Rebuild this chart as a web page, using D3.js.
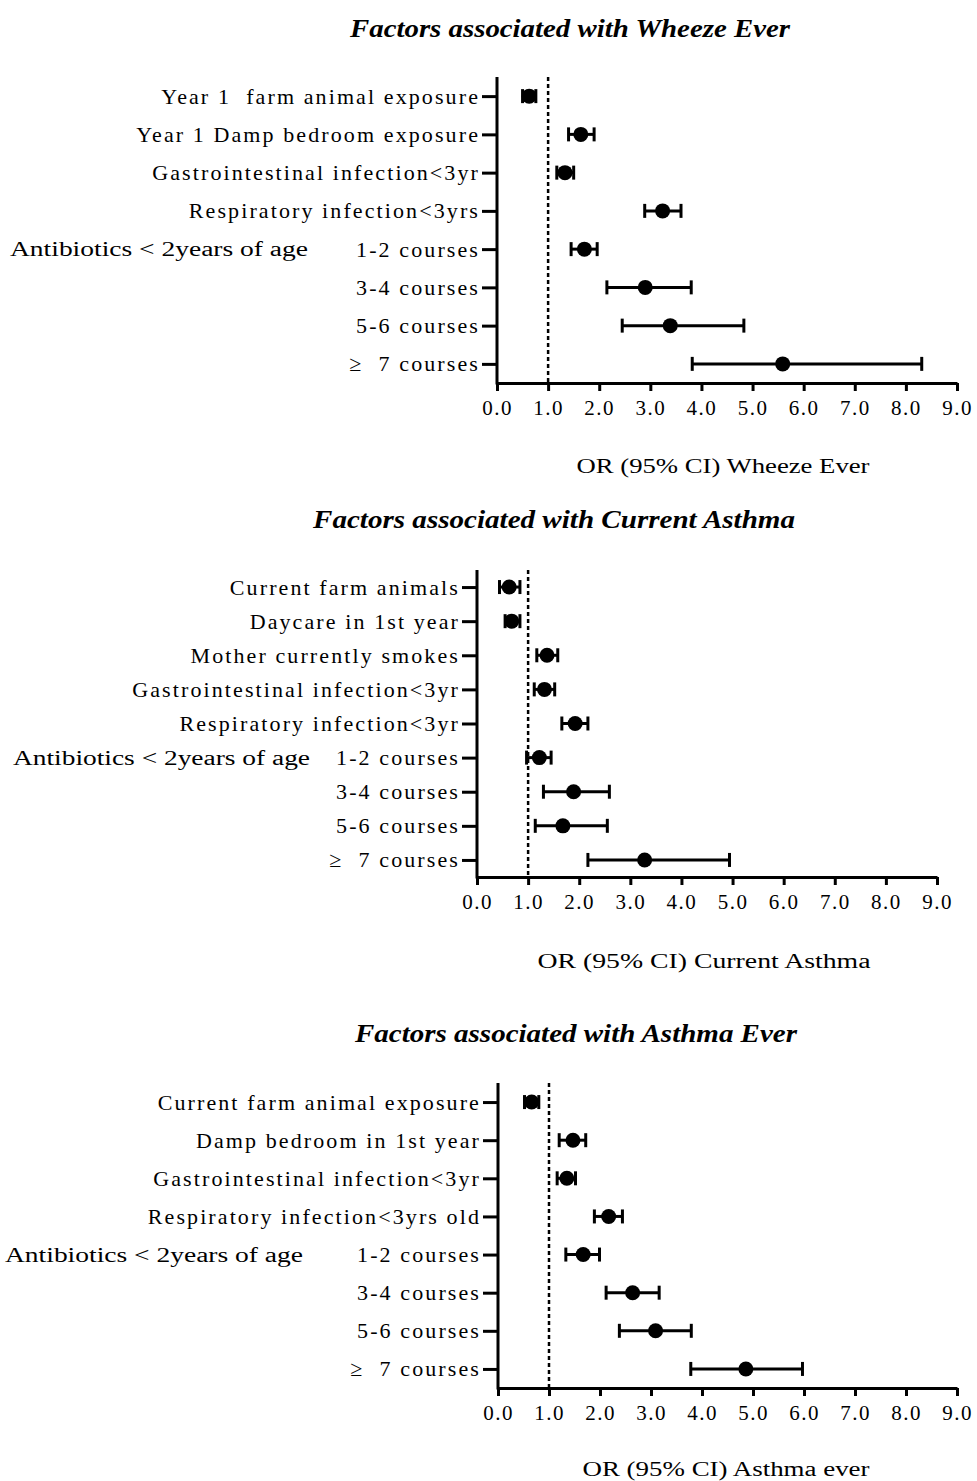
<!DOCTYPE html>
<html>
<head>
<meta charset="utf-8">
<script src="https://cdn.jsdelivr.net/npm/d3@7"></script>
<style>
  body { margin: 0; background: #fff; }
  svg text { font-family: "Liberation Serif", "Times New Roman", serif; fill: #000; }
</style>
</head>
<body>
<div id="chart"></div>
<script>
// data: odds ratios with 95% CI
var labels1 = ["Year 1  farm animal exposure", "Year 1 Damp bedroom exposure", "Gastrointestinal infection<3yr", "Respiratory infection<3yrs", "1-2 courses", "3-4 courses", "5-6 courses", "\u2265  7 courses"];
var or1 = [0.63, 1.64, 1.33, 3.24, 1.71, 2.90, 3.39, 5.59];
var lo1 = [0.50, 1.40, 1.17, 2.89, 1.45, 2.15, 2.45, 3.82];
var hi1 = [0.76, 1.90, 1.50, 3.60, 1.96, 3.80, 4.83, 8.31];

var labels2 = ["Current farm animals", "Daycare in 1st year", "Mother currently smokes", "Gastrointestinal infection<3yr", "Respiratory infection<3yr", "1-2 courses", "3-4 courses", "5-6 courses", "\u2265  7 courses"];
var or2 = [0.63, 0.68, 1.37, 1.32, 1.92, 1.22, 1.89, 1.68, 3.28];
var lo2 = [0.44, 0.55, 1.17, 1.12, 1.66, 0.97, 1.30, 1.14, 2.17];
var hi2 = [0.84, 0.84, 1.58, 1.52, 2.17, 1.45, 2.59, 2.55, 4.94];

var labels3 = ["Current farm animal exposure", "Damp bedroom in 1st year", "Gastrointestinal infection<3yr", "Respiratory infection<3yrs old", "1-2 courses", "3-4 courses", "5-6 courses", "\u2265  7 courses"];
var or3 = [0.66, 1.47, 1.35, 2.17, 1.67, 2.64, 3.09, 4.86];
var lo3 = [0.52, 1.20, 1.16, 1.89, 1.33, 2.12, 2.38, 3.78];
var hi3 = [0.80, 1.72, 1.52, 2.44, 1.99, 3.16, 3.79, 5.97];

var xTicks = [0, 1, 2, 3, 4, 5, 6, 7, 8, 9];
var groupLabel = "Antibiotics < 2years of age";

var W = 977, H = 1481;

var svg = d3.select("#chart").append("svg")
  .attr("width", W)
  .attr("height", H);

var panels = [
  {title: "Factors associated with Wheeze Ever", titleX: 570, titleY: 28, titleW: 440,
   xLabel: "OR (95% CI) Wheeze Ever", xLabelX: 723, xLabelY: 466, xLabelW: 293,
   labels: labels1, or: or1, lo: lo1, hi: hi1,
   left: 497, right: 957, top: 77, bottom: 383, groupX: 10, groupW: 298},
  {title: "Factors associated with Current Asthma", titleX: 554, titleY: 519, titleW: 482,
   xLabel: "OR (95% CI) Current Asthma", xLabelX: 704, xLabelY: 961, xLabelW: 333,
   labels: labels2, or: or2, lo: lo2, hi: hi2,
   left: 477, right: 937, top: 570, bottom: 877, groupX: 13, groupW: 297},
  {title: "Factors associated with Asthma Ever", titleX: 576, titleY: 1033, titleW: 442,
   xLabel: "OR (95% CI) Asthma ever", xLabelX: 726, xLabelY: 1469, xLabelW: 287,
   labels: labels3, or: or3, lo: lo3, hi: hi3,
   left: 498, right: 957, top: 1083, bottom: 1388, groupX: 5, groupW: 298}
];

panels.forEach(drawPanel);

function drawPanel(p) {
  var g = svg.append("g");

  var x = d3.scaleLinear().domain([0, 9]).range([p.left, p.right]);
  var y = d3.scalePoint().domain(p.labels).range([p.top, p.bottom]).padding(0.5);

  // title
  g.append("text")
    .attr("x", p.titleX)
    .attr("y", p.titleY)
    .attr("dy", "0.35em")
    .attr("text-anchor", "middle")
    .attr("font-size", 25)
    .attr("font-weight", "bold")
    .attr("font-style", "italic")
    .attr("textLength", p.titleW)
    .attr("lengthAdjust", "spacingAndGlyphs")
    .text(p.title);

  // y axis
  var yAxis = g.append("g")
    .attr("transform", `translate(${p.left},0)`)
    .call(d3.axisLeft(y).tickSize(15).tickSizeOuter(0).tickPadding(2));
  yAxis.select(".domain").remove();
  yAxis.append("line")
    .attr("x1", 0).attr("x2", 0)
    .attr("y1", p.top).attr("y2", p.bottom + 1.5)
    .attr("stroke", "#000").attr("stroke-width", 3);
  yAxis.selectAll(".tick line").attr("stroke-width", 3);
  yAxis.selectAll(".tick text")
    .attr("font-size", 22)
    .attr("font-family", "Liberation Serif")
    .attr("letter-spacing", 2.1)
    .style("white-space", "pre");

  // x axis
  var xAxis = g.append("g")
    .attr("transform", `translate(0,${p.bottom})`)
    .call(d3.axisBottom(x).tickValues(xTicks).tickSize(8).tickSizeOuter(0)
      .tickPadding(9).tickFormat(d3.format(".1f")));
  xAxis.select(".domain").attr("stroke-width", 3);
  xAxis.selectAll(".tick line").attr("stroke-width", 3);
  xAxis.selectAll(".tick text")
    .attr("font-size", 21)
    .attr("font-family", "Liberation Serif")
    .attr("letter-spacing", 1.5);

  // x axis title
  g.append("text")
    .attr("x", p.xLabelX)
    .attr("y", p.xLabelY)
    .attr("dy", "0.35em")
    .attr("text-anchor", "middle")
    .attr("font-size", 20)
    .attr("textLength", p.xLabelW)
    .attr("lengthAdjust", "spacingAndGlyphs")
    .text(p.xLabel);

  // group label next to the "1-2 courses" row
  g.append("text")
    .attr("x", p.groupX)
    .attr("y", y("1-2 courses"))
    .attr("dy", "0.35em")
    .attr("font-size", 20)
    .attr("textLength", p.groupW)
    .attr("lengthAdjust", "spacingAndGlyphs")
    .text(groupLabel);

  // reference line OR = 1
  g.append("line")
    .attr("x1", x(1)).attr("x2", x(1))
    .attr("y1", p.top).attr("y2", p.bottom)
    .attr("stroke", "#000")
    .attr("stroke-width", 2.5)
    .attr("stroke-dasharray", "4,3");

  var rows = p.labels.map(function(l, i) {
    return {label: l, or: p.or[i], lo: p.lo[i], hi: p.hi[i]};
  });

  var bars = g.append("g").selectAll("g")
    .data(rows)
    .join("g")
      .attr("transform", d => `translate(0,${y(d.label)})`);

  bars.append("line")
    .attr("x1", d => x(d.lo)).attr("x2", d => x(d.hi))
    .attr("stroke", "#000").attr("stroke-width", 3);
  bars.append("line")
    .attr("x1", d => x(d.lo)).attr("x2", d => x(d.lo))
    .attr("y1", -7).attr("y2", 7)
    .attr("stroke", "#000").attr("stroke-width", 3);
  bars.append("line")
    .attr("x1", d => x(d.hi)).attr("x2", d => x(d.hi))
    .attr("y1", -7).attr("y2", 7)
    .attr("stroke", "#000").attr("stroke-width", 3);
  bars.append("circle")
    .attr("cx", d => x(d.or))
    .attr("r", 7.5)
    .attr("fill", "#000");
}
</script>
</body>
</html>
